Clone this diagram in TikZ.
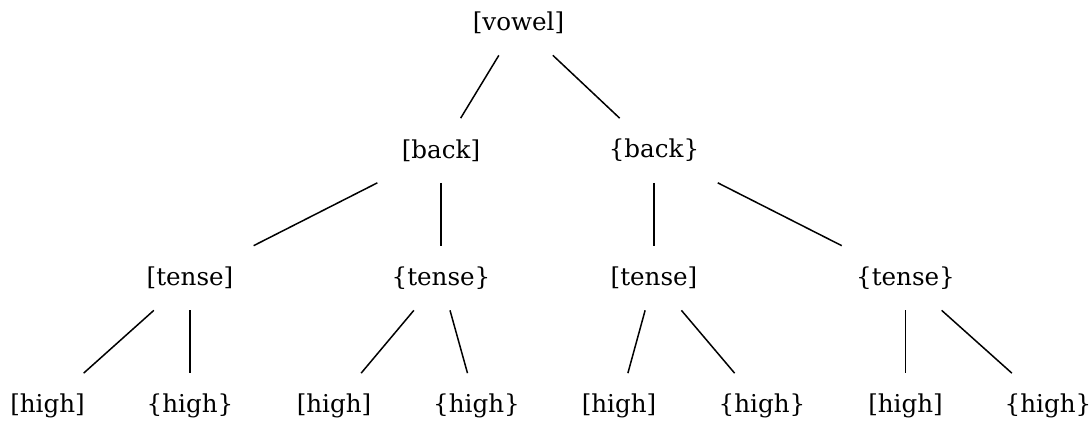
\documentclass[tikz,border=0pt]{standalone}
\usepackage{fontspec}
\setmainfont{DejaVu Serif}
\begin{document}
\begin{tikzpicture}[x=0.02cm, y=-0.02cm,
  feat/.style={rectangle, minimum width=2.6cm, minimum height=1.28cm,
    inner sep=0pt, font=\fontsize{14}{17}\selectfont},
  branch/.style={line width=0.85pt}]

  \useasboundingbox (0,0) rectangle (1092,422);

  \node[feat] (V) at (518.5,23) {[vowel]};

  \node[feat] (B1) at (441,150.5) {[back]};
  \node[feat] (B2) at (654,150.5) {\{back\}};

  \node[feat] (T1) at (190,278) {[tense]};
  \node[feat] (T2) at (441,278) {\{tense\}};
  \node[feat] (T3) at (654,278) {[tense]};
  \node[feat] (T4) at (905.5,278) {\{tense\}};

  \node[feat] (H1) at (47.5,405.5) {[high]};
  \node[feat] (H2) at (190,405.5) {\{high\}};
  \node[feat] (H3) at (334,405.5) {[high]};
  \node[feat] (H4) at (476.5,405.5) {\{high\}};
  \node[feat] (H5) at (619,405.5) {[high]};
  \node[feat] (H6) at (762,405.5) {\{high\}};
  \node[feat] (H7) at (905.5,405.5) {[high]};
  \node[feat] (H8) at (1048,405.5) {\{high\}};

  \draw[branch] (V) -- (B1);
  \draw[branch] (V) -- (B2);

  \draw[branch] (B1) -- (T1);
  \draw[branch] (B1) -- (T2);
  \draw[branch] (B2) -- (T3);
  \draw[branch] (B2) -- (T4);

  \draw[branch] (T1) -- (H1);
  \draw[branch] (T1) -- (H2);
  \draw[branch] (T2) -- (H3);
  \draw[branch] (T2) -- (H4);
  \draw[branch] (T3) -- (H5);
  \draw[branch] (T3) -- (H6);
  \draw[branch] (T4) -- (H7);
  \draw[branch] (T4) -- (H8);

\end{tikzpicture}
\end{document}
